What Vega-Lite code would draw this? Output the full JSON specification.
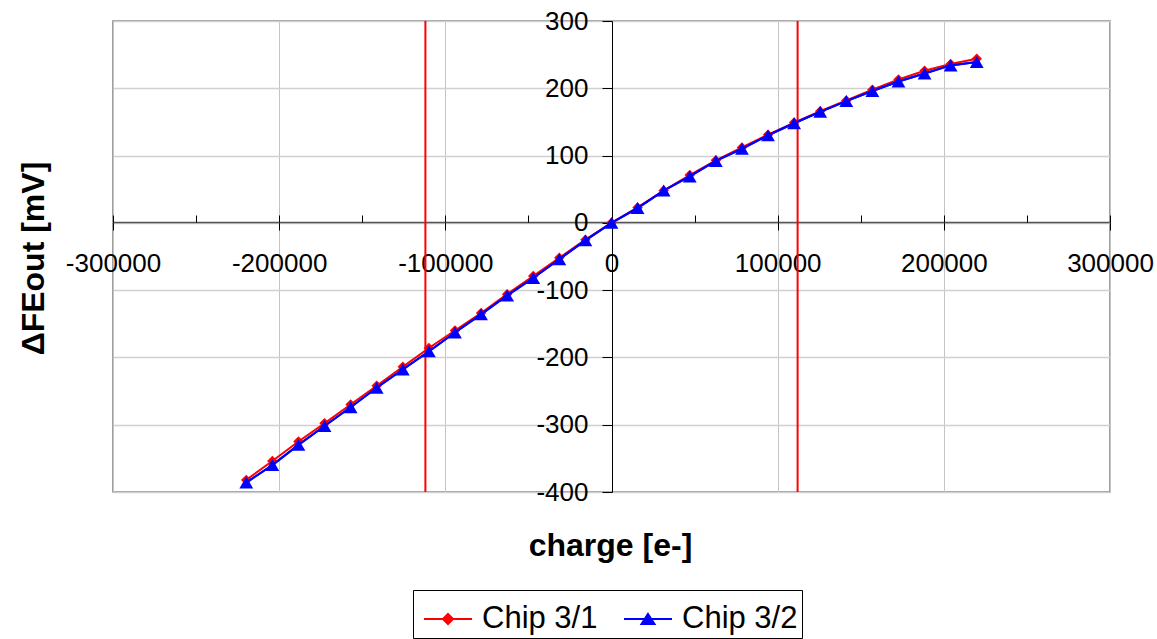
{
  "$schema": "https://vega.github.io/schema/vega-lite/v6.json",
  "width": 997,
  "height": 471,
  "autosize": "none",
  "padding": {"left": 113, "top": 21, "right": 47, "bottom": 147},
  "background": "white",
  "config": {
    "font": "Liberation Sans",
    "view": {"stroke": "#808080", "strokeWidth": 1.5},
    "axis": {"labelColor": "#000", "titleColor": "#000", "labelFont": "Liberation Sans", "titleFont": "Liberation Sans"}
  },
  "datasets": {
    "lim": [{"q": -112000}, {"q": 112000}],
    "meas": [
      {"chip": "Chip 3/1", "q": -219800, "v": -382},
      {"chip": "Chip 3/1", "q": -204100, "v": -354},
      {"chip": "Chip 3/1", "q": -188400, "v": -325},
      {"chip": "Chip 3/1", "q": -172700, "v": -298},
      {"chip": "Chip 3/1", "q": -157000, "v": -270},
      {"chip": "Chip 3/1", "q": -141300, "v": -242},
      {"chip": "Chip 3/1", "q": -125600, "v": -214},
      {"chip": "Chip 3/1", "q": -109900, "v": -186},
      {"chip": "Chip 3/1", "q": -94200, "v": -160},
      {"chip": "Chip 3/1", "q": -78500, "v": -134},
      {"chip": "Chip 3/1", "q": -62800, "v": -106},
      {"chip": "Chip 3/1", "q": -47100, "v": -79},
      {"chip": "Chip 3/1", "q": -31400, "v": -52},
      {"chip": "Chip 3/1", "q": -15700, "v": -25},
      {"chip": "Chip 3/1", "q": 0, "v": 0},
      {"chip": "Chip 3/1", "q": 15700, "v": 23},
      {"chip": "Chip 3/1", "q": 31400, "v": 48},
      {"chip": "Chip 3/1", "q": 47100, "v": 71},
      {"chip": "Chip 3/1", "q": 62800, "v": 93},
      {"chip": "Chip 3/1", "q": 78500, "v": 112},
      {"chip": "Chip 3/1", "q": 94200, "v": 131},
      {"chip": "Chip 3/1", "q": 109900, "v": 149},
      {"chip": "Chip 3/1", "q": 125600, "v": 166},
      {"chip": "Chip 3/1", "q": 141300, "v": 182},
      {"chip": "Chip 3/1", "q": 157000, "v": 198},
      {"chip": "Chip 3/1", "q": 172700, "v": 213},
      {"chip": "Chip 3/1", "q": 188400, "v": 226},
      {"chip": "Chip 3/1", "q": 204100, "v": 236},
      {"chip": "Chip 3/1", "q": 219800, "v": 244},
      {"chip": "Chip 3/2", "q": -219800, "v": -386},
      {"chip": "Chip 3/2", "q": -204100, "v": -360},
      {"chip": "Chip 3/2", "q": -188400, "v": -330},
      {"chip": "Chip 3/2", "q": -172700, "v": -302},
      {"chip": "Chip 3/2", "q": -157000, "v": -274},
      {"chip": "Chip 3/2", "q": -141300, "v": -245},
      {"chip": "Chip 3/2", "q": -125600, "v": -218},
      {"chip": "Chip 3/2", "q": -109900, "v": -191},
      {"chip": "Chip 3/2", "q": -94200, "v": -163},
      {"chip": "Chip 3/2", "q": -78500, "v": -136},
      {"chip": "Chip 3/2", "q": -62800, "v": -108},
      {"chip": "Chip 3/2", "q": -47100, "v": -82},
      {"chip": "Chip 3/2", "q": -31400, "v": -54},
      {"chip": "Chip 3/2", "q": -15700, "v": -26},
      {"chip": "Chip 3/2", "q": 0, "v": 0},
      {"chip": "Chip 3/2", "q": 15700, "v": 22},
      {"chip": "Chip 3/2", "q": 31400, "v": 48},
      {"chip": "Chip 3/2", "q": 47100, "v": 69},
      {"chip": "Chip 3/2", "q": 62800, "v": 92},
      {"chip": "Chip 3/2", "q": 78500, "v": 110},
      {"chip": "Chip 3/2", "q": 94200, "v": 130},
      {"chip": "Chip 3/2", "q": 109900, "v": 148},
      {"chip": "Chip 3/2", "q": 125600, "v": 165},
      {"chip": "Chip 3/2", "q": 141300, "v": 181},
      {"chip": "Chip 3/2", "q": 157000, "v": 196},
      {"chip": "Chip 3/2", "q": 172700, "v": 210},
      {"chip": "Chip 3/2", "q": 188400, "v": 222},
      {"chip": "Chip 3/2", "q": 204100, "v": 234},
      {"chip": "Chip 3/2", "q": 219800, "v": 239}
    ]
  },
  "resolve": {"axis": {"x": "independent"}},
  "layer": [
    {
      "data": {"name": "lim"},
      "mark": {"type": "rule", "color": "#ff0000", "strokeWidth": 2},
      "encoding": {
        "x": {
          "field": "q", "type": "quantitative",
          "scale": {"domain": [-300000, 300000], "nice": false, "zero": false},
          "axis": {
            "orient": "bottom", "offset": -270,
            "values": [-300000, -200000, -100000, 0, 100000, 200000, 300000],
            "labelExpr": "'' + datum.value", "labelFlush": false, "labelOverlap": false,
            "grid": true, "gridColor": "#c4c4c4", "gridWidth": 1,
            "domainColor": "#555555", "domainWidth": 1.5,
            "tickColor": "#000", "tickSize": 8, "tickWidth": 1,
            "labelFontSize": 26, "labelPadding": 20,
            "title": "charge [e-]", "titleFontSize": 32, "titleFontWeight": "bold",
            "titleX": 497, "titleY": 323, "titleBaseline": "middle", "titleAlign": "center"
          }
        }
      }
    },
    {
      "data": {"name": "meas"},
      "mark": {"type": "line", "strokeWidth": 2},
      "encoding": {
        "x": {
          "field": "q", "type": "quantitative",
          "scale": {"domain": [-300000, 300000], "nice": false, "zero": false},
          "axis": {
            "orient": "top", "offset": -201,
            "values": [-300000, -250000, -200000, -150000, -100000, -50000, 0, 50000, 100000, 150000, 200000, 250000, 300000],
            "labels": false, "domain": false, "grid": false,
            "ticks": true, "tickSize": 7, "tickColor": "#000", "title": null
          }
        },
        "y": {
          "field": "v", "type": "quantitative",
          "scale": {"domain": [-400, 300], "nice": false, "zero": false},
          "axis": {
            "orient": "left", "offset": -499,
            "values": [-400, -300, -200, -100, 0, 100, 200, 300],
            "labelExpr": "'' + datum.value", "labelFlush": false, "labelOverlap": false,
            "grid": true, "gridColor": "#d0d0d0", "gridWidth": 1.5,
            "domainColor": "#000", "domainWidth": 1,
            "tickColor": "#000", "tickSize": 10,
            "labelFontSize": 26, "labelPadding": 14,
            "title": "ΔFEout [mV]", "titleFontSize": 32, "titleFontWeight": "bold",
            "titleX": -579, "titleY": 237, "titleBaseline": "middle", "titleAlign": "center", "titleAngle": 270
          }
        },
        "color": {
          "field": "chip", "type": "nominal",
          "scale": {"domain": ["Chip 3/1", "Chip 3/2"], "range": ["#ff0000", "#0000ff"]},
          "legend": {
            "title": null, "orient": "none", "legendX": 300, "legendY": 569,
            "direction": "horizontal", "columns": 2,
            "padding": 4, "symbolOffset": 6, "symbolSize": 2304,
            "labelFontSize": 31, "labelFont": "Liberation Sans", "labelColor": "#000", "labelOffset": 9,
            "columnPadding": 19,
            "strokeColor": "#000", "fillColor": "#ffffff",
            "encode": {
              "symbols": {
                "update": {
                  "shape": {"signal": "datum.value === 'Chip 3/1' ? 'M-1,0H1M0,-0.21L0.21,0L0,0.21L-0.21,0Z' : 'M-1,0H1M0,-0.21L0.27,0.21L-0.27,0.21Z'"},
                  "fill": {"signal": "datum.value === 'Chip 3/1' ? '#ff0000' : '#0000ff'"},
                  "stroke": {"signal": "datum.value === 'Chip 3/1' ? '#ff0000' : '#0000ff'"},
                  "strokeWidth": {"value": 2},
                  "size": {"value": 2304},
                  "opacity": {"value": 1}
                }
              }
            }
          }
        }
      }
    },
    {
      "data": {"name": "meas"},
      "transform": [{"filter": "datum.chip === 'Chip 3/1'"}],
      "mark": {"type": "point", "filled": true, "shape": "diamond", "size": 110, "opacity": 1},
      "encoding": {
        "x": {"field": "q", "type": "quantitative", "scale": {"domain": [-300000, 300000], "nice": false, "zero": false}, "axis": null},
        "y": {
          "field": "v", "type": "quantitative",
          "scale": {"domain": [-400, 300], "nice": false, "zero": false},
          "axis": {
            "orient": "left", "offset": -499,
            "values": [-400, -300, -200, -100, 0, 100, 200, 300],
            "labelExpr": "'' + datum.value", "labelFlush": false, "labelOverlap": false,
            "grid": true, "gridColor": "#d0d0d0", "gridWidth": 1.5,
            "domainColor": "#000", "domainWidth": 1,
            "tickColor": "#000", "tickSize": 10,
            "labelFontSize": 26, "labelPadding": 14,
            "title": "ΔFEout [mV]", "titleFontSize": 32, "titleFontWeight": "bold",
            "titleX": -579, "titleY": 237, "titleBaseline": "middle", "titleAlign": "center", "titleAngle": 270
          }
        },
        "color": {"field": "chip", "type": "nominal", "scale": {"domain": ["Chip 3/1", "Chip 3/2"], "range": ["#ff0000", "#0000ff"]}}
      }
    },
    {
      "data": {"name": "meas"},
      "transform": [{"filter": "datum.chip === 'Chip 3/2'"}],
      "mark": {"type": "line", "strokeWidth": 2},
      "encoding": {
        "x": {"field": "q", "type": "quantitative", "scale": {"domain": [-300000, 300000], "nice": false, "zero": false}, "axis": null},
        "y": {
          "field": "v", "type": "quantitative",
          "scale": {"domain": [-400, 300], "nice": false, "zero": false},
          "axis": {
            "orient": "left", "offset": -499,
            "values": [-400, -300, -200, -100, 0, 100, 200, 300],
            "labelExpr": "'' + datum.value", "labelFlush": false, "labelOverlap": false,
            "grid": true, "gridColor": "#d0d0d0", "gridWidth": 1.5,
            "domainColor": "#000", "domainWidth": 1,
            "tickColor": "#000", "tickSize": 10,
            "labelFontSize": 26, "labelPadding": 14,
            "title": "ΔFEout [mV]", "titleFontSize": 32, "titleFontWeight": "bold",
            "titleX": -579, "titleY": 237, "titleBaseline": "middle", "titleAlign": "center", "titleAngle": 270
          }
        },
        "color": {"field": "chip", "type": "nominal", "scale": {"domain": ["Chip 3/1", "Chip 3/2"], "range": ["#ff0000", "#0000ff"]}}
      }
    },
    {
      "data": {"name": "meas"},
      "transform": [{"filter": "datum.chip === 'Chip 3/2'"}],
      "mark": {"type": "point", "filled": true, "shape": "triangle-up", "size": 190, "opacity": 1},
      "encoding": {
        "x": {"field": "q", "type": "quantitative", "scale": {"domain": [-300000, 300000], "nice": false, "zero": false}, "axis": null},
        "y": {
          "field": "v", "type": "quantitative",
          "scale": {"domain": [-400, 300], "nice": false, "zero": false},
          "axis": {
            "orient": "left", "offset": -499,
            "values": [-400, -300, -200, -100, 0, 100, 200, 300],
            "labelExpr": "'' + datum.value", "labelFlush": false, "labelOverlap": false,
            "grid": true, "gridColor": "#d0d0d0", "gridWidth": 1.5,
            "domainColor": "#000", "domainWidth": 1,
            "tickColor": "#000", "tickSize": 10,
            "labelFontSize": 26, "labelPadding": 14,
            "title": "ΔFEout [mV]", "titleFontSize": 32, "titleFontWeight": "bold",
            "titleX": -579, "titleY": 237, "titleBaseline": "middle", "titleAlign": "center", "titleAngle": 270
          }
        },
        "color": {"field": "chip", "type": "nominal", "scale": {"domain": ["Chip 3/1", "Chip 3/2"], "range": ["#ff0000", "#0000ff"]}}
      }
    }
  ]
}
